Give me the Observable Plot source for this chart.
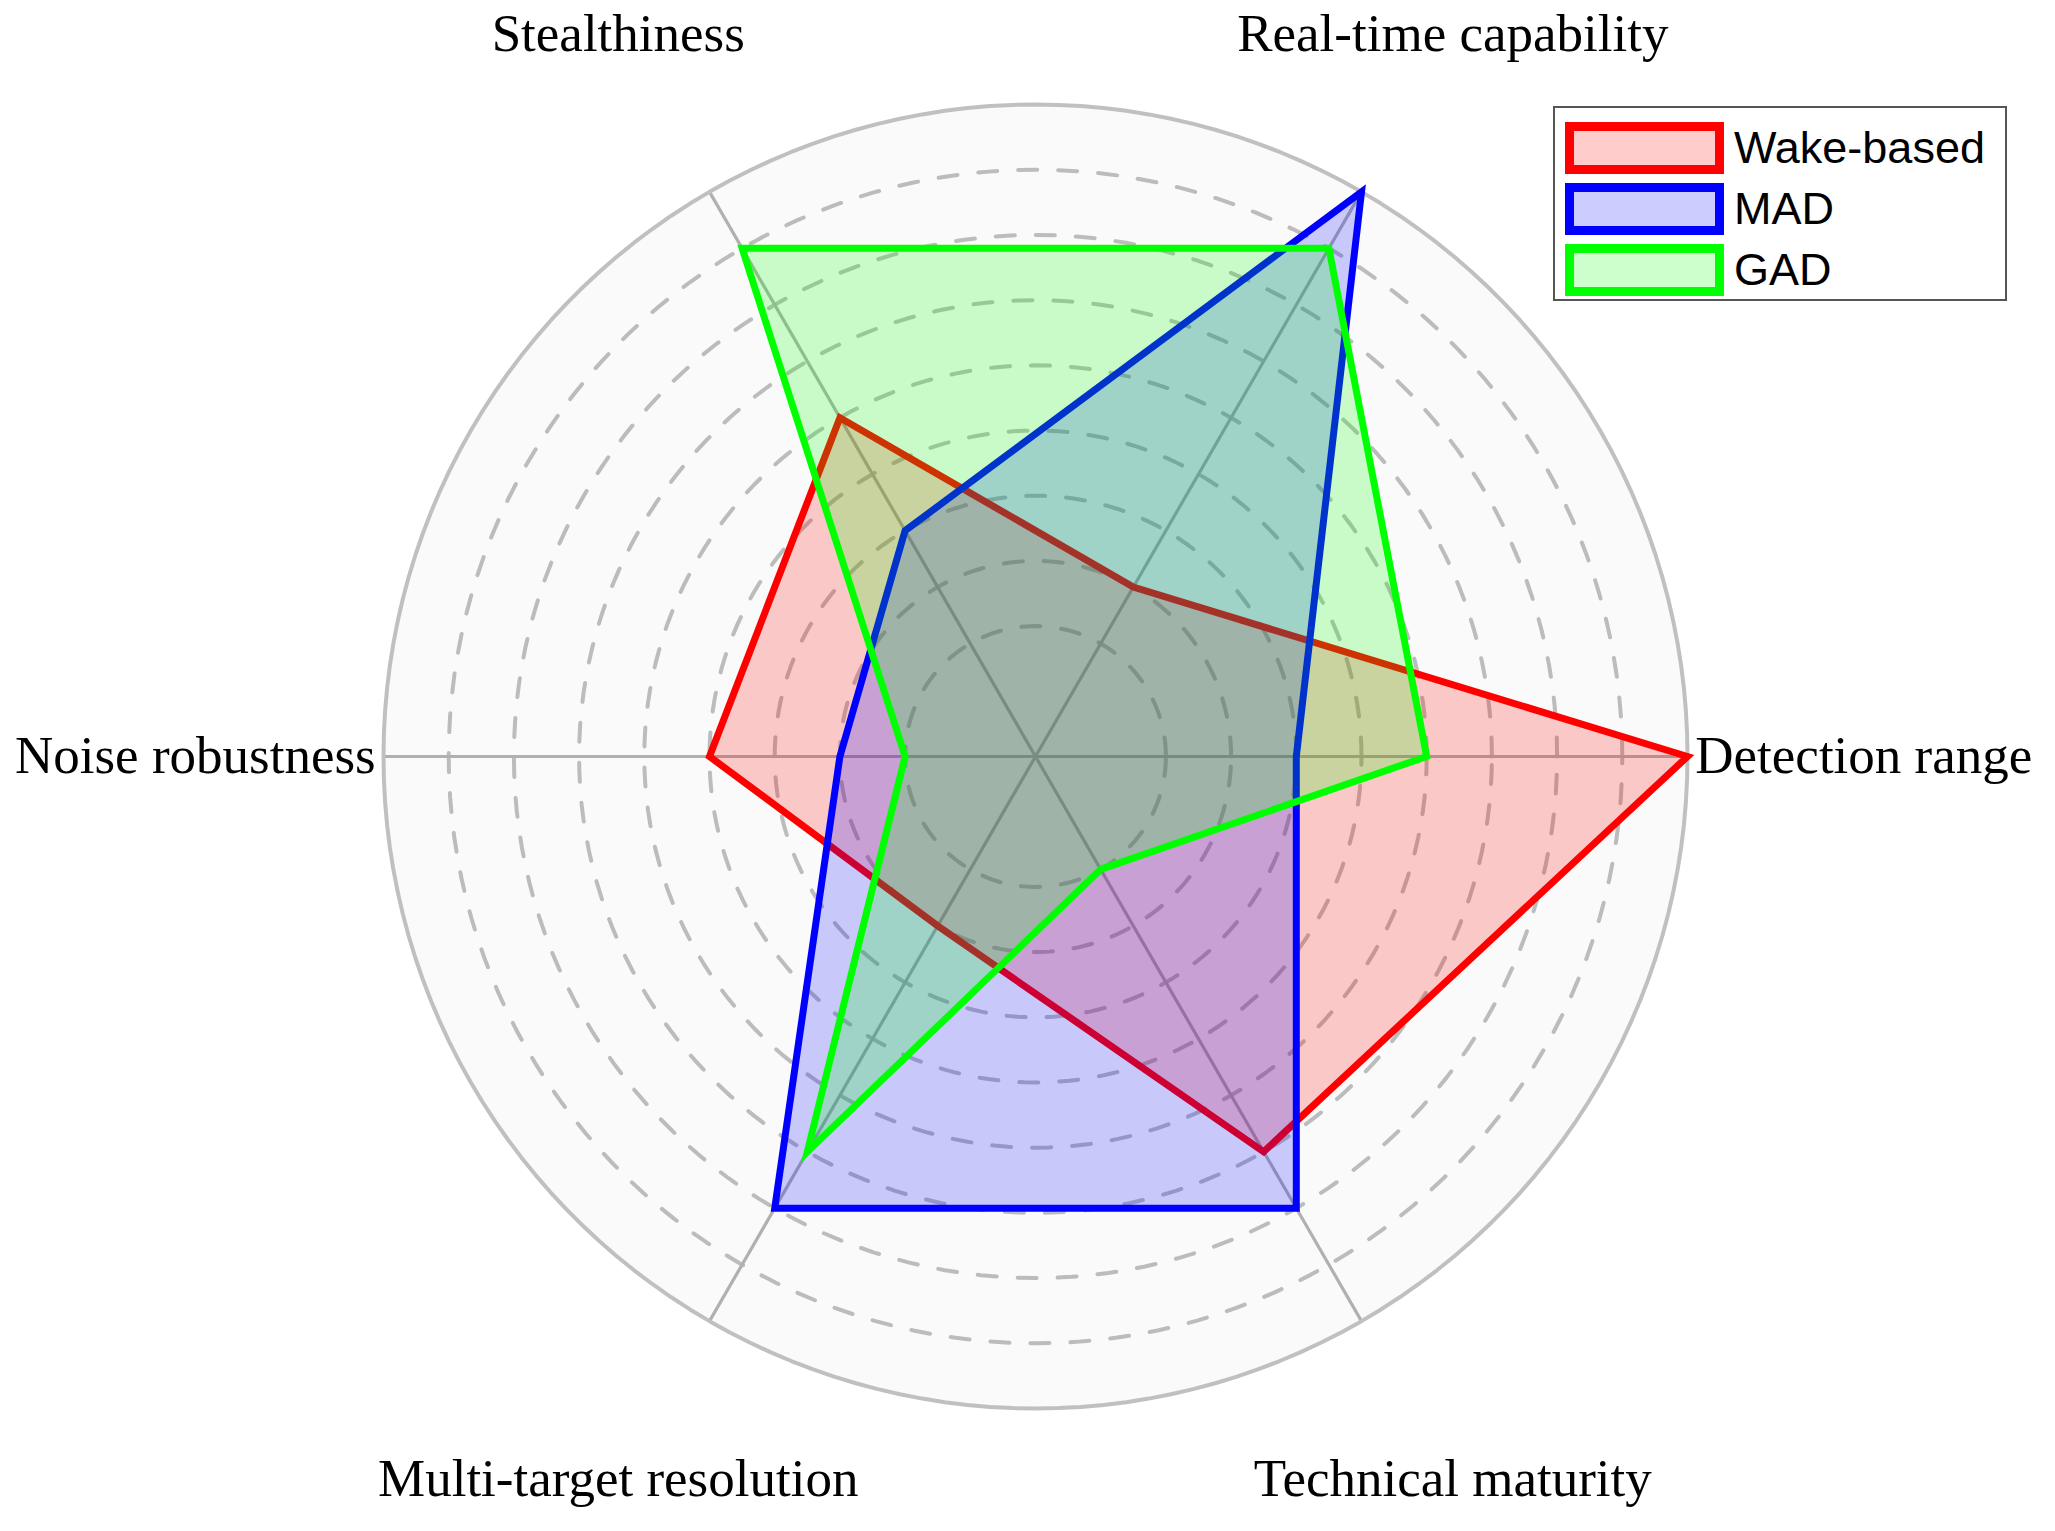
<!DOCTYPE html>
<html>
<head>
<meta charset="utf-8">
<script src="https://cdn.jsdelivr.net/npm/d3@7"></script>
<script src="https://cdn.jsdelivr.net/npm/@observablehq/plot@0.6"></script>
<style>
  html, body { margin: 0; padding: 0; background: #fff; }
  #wrap { position: relative; width: 2055px; height: 1531px; }
  #legend {
    position: absolute; left: 1553px; top: 106px; width: 454px; height: 195px;
    box-sizing: border-box; border: 2px solid #555; background: #fff;
    font-family: "Liberation Sans", Arial, sans-serif; font-size: 45px; color: #000;
    padding-top: 9px;
  }
  .row { display: flex; align-items: center; height: 61px; padding-left: 10px; }
  .sw { width: 159px; height: 52px; box-sizing: border-box; border-width: 9px; border-style: solid; margin-right: 10px; }
</style>
</head>
<body>
<div id="wrap"><div id="chart"></div><div id="legend"></div></div>
<script>
// ---- data ----
const axes = ["Detection range", "Real-time capability", "Stealthiness", "Noise robustness", "Multi-target resolution", "Technical maturity"];
const seriesNames = ["Wake-based", "MAD", "GAD"];
const wakeBased = [1.0, 0.3, 0.6, 0.5, 0.3, 0.7];
const mad       = [0.4, 1.0, 0.4, 0.3, 0.8, 0.8];
const gad       = [0.6, 0.9, 0.9, 0.2, 0.7, 0.2];
const ringLevels = [0.2, 0.3, 0.4, 0.5, 0.6, 0.7, 0.8, 0.9];
const outerLevel = 1.0;
const colors = ["#ff0000", "#0000ff", "#00ff00"];

// ---- layout ----
const W = 2055, H = 1531, cx = 1035, cy = 756, R = 652;
const angle = i => (i * 60) * Math.PI / 180;
const circlePts = (lvl) => d3.range(0, 361, 2).map(a => ({x: lvl * Math.cos(a * Math.PI / 180), y: lvl * Math.sin(a * Math.PI / 180), lvl}));

const rings = ringLevels.flatMap(circlePts);
const outer = circlePts(outerLevel);
const spokes = axes.map((name, i) => ({x1: 0, y1: 0, x2: outerLevel * Math.cos(angle(i)), y2: outerLevel * Math.sin(angle(i))}));
const allSeries = [wakeBased, mad, gad];
const polys = allSeries.map((vals, s) => {
  const pts = vals.map((v, i) => ({x: v * Math.cos(angle(i)), y: v * Math.sin(angle(i)), s: seriesNames[s]}));
  pts.push(pts[0]);
  return pts;
});
const labels = axes.map((name, i) => {
  const c = Math.cos(angle(i)), sn = Math.sin(angle(i));
  const horiz = Math.abs(sn) < 1e-6;
  const r = horiz ? 1.012 : 1.28;
  return {name, x: r * c, y: r * sn, anchor: horiz ? (c > 0 ? "start" : "end") : "middle"};
});

const txt = {x: "x", y: "y", text: "name", fontFamily: "Liberation Serif", fontSize: 53, fill: "#000"};
const plot = Plot.plot({
  width: W, height: H, margin: 0,
  x: {domain: [-cx / R, (W - cx) / R], axis: null},
  y: {domain: [-(H - cy) / R, cy / R], axis: null},
  marks: [
    Plot.line(outer, {x: "x", y: "y", fill: "#fafafa", stroke: "none"}),
    Plot.line(rings, {x: "x", y: "y", z: "lvl", stroke: "#bcbcbc", strokeWidth: 4, strokeDasharray: "19,21", curve: "linear"}),
    Plot.link(spokes, {x1: "x1", y1: "y1", x2: "x2", y2: "y2", stroke: "#b0b0b0", strokeWidth: 3.2}),
    Plot.line(outer, {x: "x", y: "y", stroke: "#c0c0c0", strokeWidth: 4}),
    ...polys.map((pts, s) => Plot.line(pts, {
      x: "x", y: "y", stroke: colors[s], fill: colors[s], fillOpacity: 0.2,
      strokeWidth: 7, strokeLinejoin: "miter", strokeMiterlimit: 10, curve: "linear-closed"
    })),
    Plot.text(labels.filter(d => d.anchor === "start"), {...txt, textAnchor: "start"}),
    Plot.text(labels.filter(d => d.anchor === "end"), {...txt, textAnchor: "end"}),
    Plot.text(labels.filter(d => d.anchor === "middle"), {...txt, textAnchor: "middle"})
  ]
});
document.getElementById("chart").appendChild(plot);

const legend = document.getElementById("legend");
seriesNames.forEach((n, i) => {
  const row = document.createElement("div");
  row.className = "row";
  const sw = document.createElement("div");
  sw.className = "sw";
  sw.style.borderColor = colors[i];
  sw.style.background = d3.color(colors[i]).copy({opacity: 0.2}).formatRgb();
  const t = document.createElement("span");
  t.textContent = n;
  row.appendChild(sw); row.appendChild(t);
  legend.appendChild(row);
});
</script>
</body>
</html>
